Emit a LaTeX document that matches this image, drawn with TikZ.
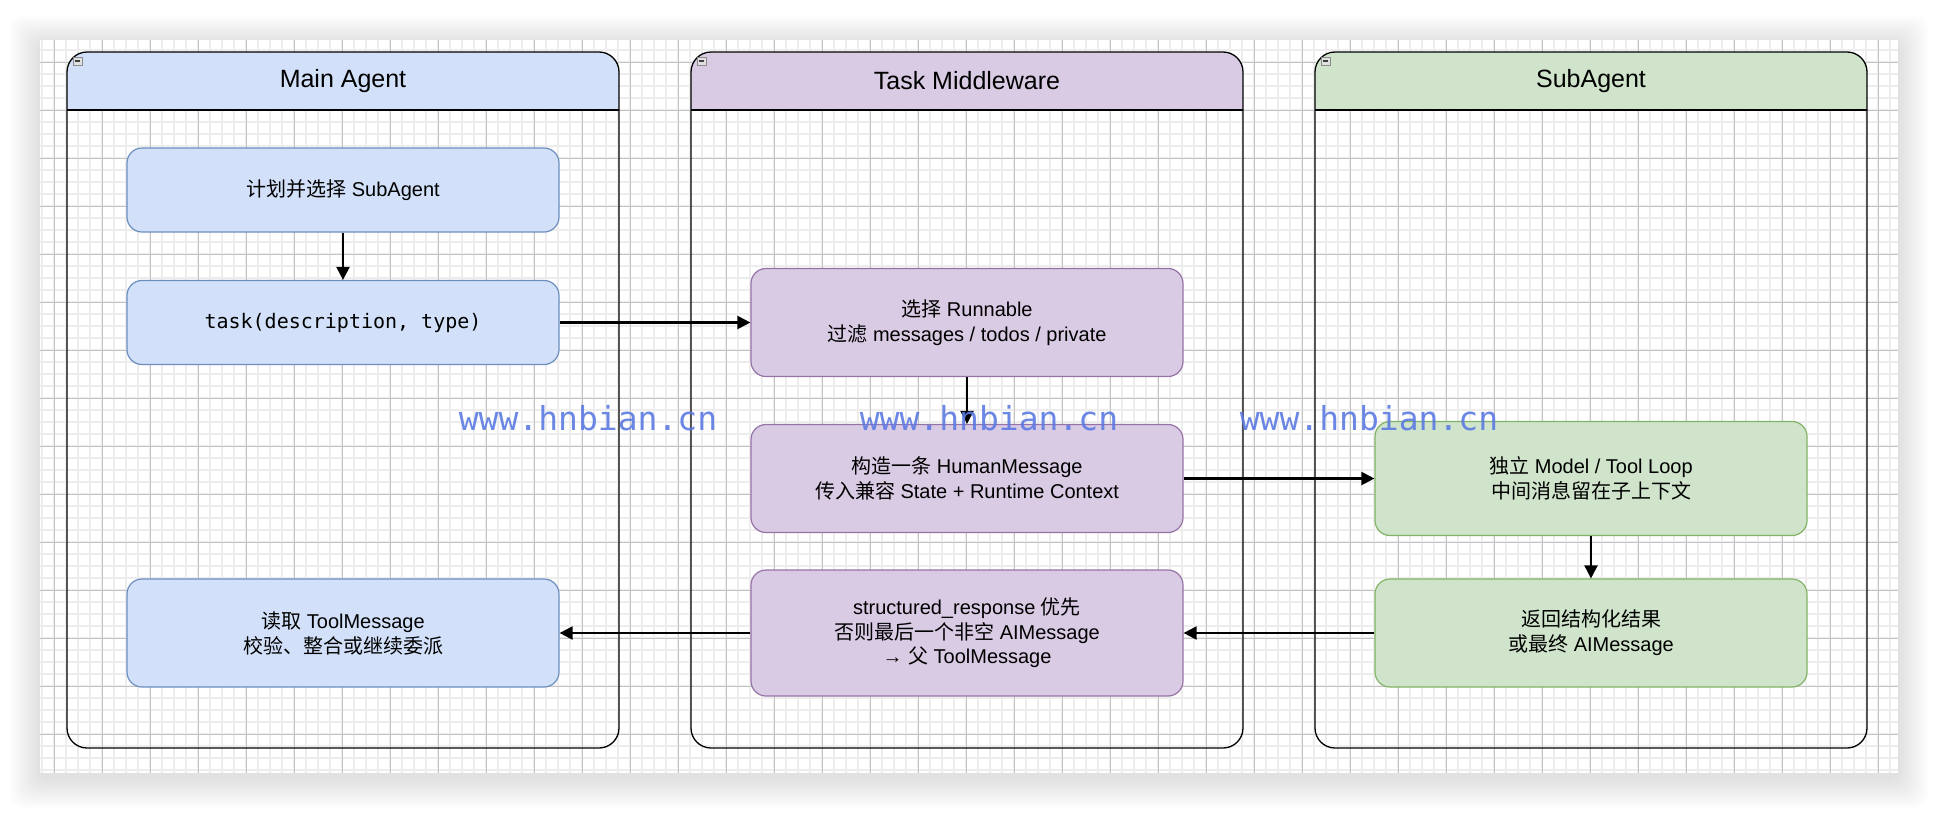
\documentclass[tikz,border=0pt]{standalone}
\usepackage{fontspec}
\setmainfont{Liberation Sans}
\newfontfamily\cjk{Noto Sans CJK SC}
\newfontfamily\codefont{DejaVu Sans Mono}
\usepackage{tikz}
\usetikzlibrary{arrows.meta, positioning}
\usepackage{xcolor}
\definecolor{bluefill}{RGB}{210,225,249}
\definecolor{blueline}{HTML}{6C8EBF}
\definecolor{purplefill}{RGB}{217,203,228}
\definecolor{purpleline}{HTML}{9673A6}
\definecolor{greenfill}{RGB}{207,228,203}
\definecolor{greenline}{HTML}{82B366}
\definecolor{wmblue}{RGB}{92,122,226}

\begin{document}
\begin{tikzpicture}[x=0.5pt, y=-0.5pt,
  lanetitle/.style={font=\fontsize{12.5}{15}\selectfont},
  bluebox/.style={draw=blueline, fill=bluefill, rounded corners=7.5pt, line width=0.6pt, minimum width=216pt, inner sep=0pt, align=center, font=\fontsize{10}{12.5}\selectfont},
  purplebox/.style={bluebox, draw=purpleline, fill=purplefill},
  greenbox/.style={bluebox, draw=greenline, fill=greenfill},
  flow/.style={-{Triangle[length=6.5pt, width=6.5pt]}, line width=1.1pt},
  watermark/.style={text=wmblue, opacity=0.9, font=\codefont\fontsize{16.5}{18}\selectfont, anchor=base, inner sep=0pt}]
  \useasboundingbox (0,0) rectangle (1938,814);

  % page shadow and canvas
  \foreach \i in {1,...,15}
    \fill[black, opacity=0.009, rounded corners=6pt] ({40-2*\i},{45-2*\i}) rectangle ({1898+2*\i},{778+2*\i});
  \fill[white] (40,40) rectangle (1898,773);
  \begin{scope}[shift={(6,14)}]
    \draw[black!7, line width=0.6pt, step=6pt] (34,759) grid (1892,26);
    \draw[black!23, line width=0.5pt, step=24pt] (34,759) grid (1892,26);
  \end{scope}

  % lanes
  \begin{scope}
    \clip[rounded corners=10pt] (67,52) rectangle (619,748);
    \fill[bluefill] (67,52) rectangle (619,110);
  \end{scope}
  \draw[line width=0.65pt, rounded corners=10pt] (67,52) rectangle (619,748);
  \draw[line width=0.65pt] (67,110) -- (619,110);
  \begin{scope}
    \clip[rounded corners=10pt] (691,52) rectangle (1243,748);
    \fill[purplefill] (691,52) rectangle (1243,110);
  \end{scope}
  \draw[line width=0.65pt, rounded corners=10pt] (691,52) rectangle (1243,748);
  \draw[line width=0.65pt] (691,110) -- (1243,110);
  \begin{scope}
    \clip[rounded corners=10pt] (1315,52) rectangle (1867,748);
    \fill[greenfill] (1315,52) rectangle (1867,110);
  \end{scope}
  \draw[line width=0.65pt, rounded corners=10pt] (1315,52) rectangle (1867,748);
  \draw[line width=0.65pt] (1315,110) -- (1867,110);

  % collapse markers
  \draw[black!45, fill=black!12, line width=0.4pt] (73,57) rectangle (82,65);
  \draw[black!75, line width=0.6pt] (75,61) -- (80,61);
  \draw[black!45, fill=black!12, line width=0.4pt] (697,57) rectangle (706,65);
  \draw[black!75, line width=0.6pt] (699,61) -- (704,61);
  \draw[black!45, fill=black!12, line width=0.4pt] (1321,57) rectangle (1330,65);
  \draw[black!75, line width=0.6pt] (1323,61) -- (1328,61);

  \node[lanetitle] (mainhd) at (343,81) {Main Agent};
  \node[lanetitle] (midhd) at (967,81) {Task Middleware};
  \node[lanetitle] (subhd) at (1591,81) {SubAgent};

  % Main Agent
  \node[bluebox, minimum height=42pt] (plan) at (343,190) {{\cjk 计划并选择} SubAgent};
  \node[bluebox, minimum height=42pt, font=\codefont\fontsize{10}{12.5}\selectfont] (task) at (343,322.5) {task(description, type)};
  \node[bluebox, minimum height=54pt] (read) at (343,633) {{\cjk 读取} ToolMessage\\{\cjk 校验、整合或继续委派}};

  % Task Middleware
  \node[purplebox, minimum height=54pt] (pick) at (967,322.5) {{\cjk 选择} Runnable\\{\cjk 过滤} messages / todos / private};
  \node[purplebox, minimum height=54pt] (build) at (967,478.5) {{\cjk 构造一条} HumanMessage\\{\cjk 传入兼容} State + Runtime Context};
  \node[purplebox, minimum height=63pt, font=\fontsize{10}{12.2}\selectfont] (wrap) at (967,633) {structured\_response {\cjk 优先}\\{\cjk 否则最后一个非空} AIMessage\\→ {\cjk 父} ToolMessage};

  % SubAgent
  \node[greenbox, minimum height=57pt] (loop) at (1591,478.5) {{\cjk 独立} Model / Tool Loop\\{\cjk 中间消息留在子上下文}};
  \node[greenbox, minimum height=54pt] (ret) at (1591,633) {{\cjk 返回结构化结果}\\{\cjk 或最终} AIMessage};

  \draw[flow] (plan) -- (task);
  \draw[flow] (task) -- (pick);
  \draw[flow] (pick) -- (build);
  \draw[flow] (build) -- (loop);
  \draw[flow] (loop) -- (ret);
  \draw[flow] (ret) -- (wrap);
  \draw[flow] (wrap) -- (read);

  \node[watermark] (wm1) at (588,430) {www.hnbian.cn};
  \node[watermark] (wm2) at (989,430) {www.hnbian.cn};
  \node[watermark] (wm3) at (1369,430) {www.hnbian.cn};
\end{tikzpicture}
\end{document}
